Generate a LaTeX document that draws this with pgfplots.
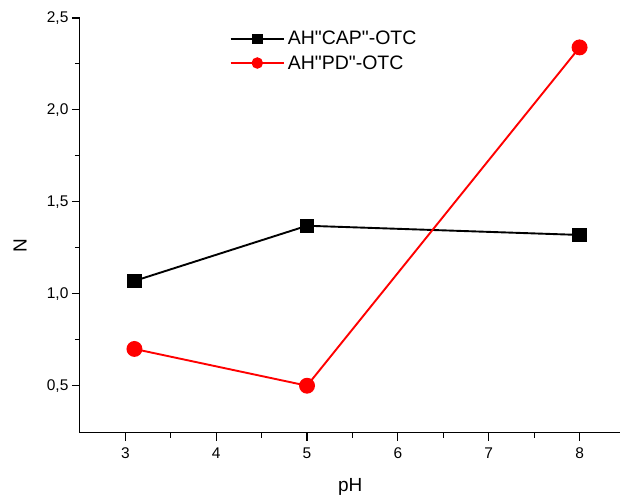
\documentclass[border=0pt]{standalone}
\usepackage{pgfplots}
\pgfplotsset{compat=1.18}
\usepackage{fontspec}
\setmainfont{Liberation Sans}
\begin{document}
\begin{tikzpicture}
\begin{axis}[
  scale only axis,
  width=541pt, height=415pt,
  xmin=2.5, xmax=8.45,
  ymin=0.245, ymax=2.5,
  axis x line*=bottom, axis y line*=left,
  axis line style={line width=1.1pt},
  tick style={line width=1.1pt, black},
  tick align=outside,
  major tick length=8pt, minor tick length=5pt,
  xtick={3,4,5,6,7,8}, ytick={0.5,1.0,1.5,2.0,2.5},
  minor x tick num=1, minor y tick num=1,
  /pgf/number format/assume math mode=true,
  yticklabel style={/pgf/number format/.cd, use comma, fixed, fixed zerofill, precision=1},
  ticklabel style={font=\fontsize{15.5}{17}\selectfont},
  xticklabel style={yshift=-4pt},
  xlabel={pH}, ylabel={N},
  label style={font=\fontsize{19}{21}\selectfont},
  xlabel style={at={(axis description cs:0.5,0)}, anchor=center, yshift=-54pt},
  ylabel style={at={(axis description cs:0,0.45)}, anchor=center, yshift=60pt},
  legend style={draw=none, fill=none, at={(rel axis cs:0.275,0.973)}, anchor=north west,
    font=\fontsize{19.5}{22}\selectfont, row sep=7pt, inner sep=1pt,
    nodes={inner xsep=3pt, inner ysep=1pt}},
  legend cell align=left,
  legend image code/.code={
    \draw[#1, mark=none] (0cm,0cm) -- (1.87cm,0cm);
    \draw[#1, only marks, mark options={scale=0.68}] plot coordinates {(0.935cm,0cm)};
  },
  clip=false,
]
\addplot[black, line width=1.9pt, mark=square*, mark size=6.3pt, mark options={solid}]
  coordinates {(3.1,1.07) (5,1.37) (8,1.32)};
\addlegendentry{AH\textquotedbl CAP\textquotedbl -OTC}
\addplot[red, line width=1.9pt, mark=*, mark size=7pt, mark options={solid, fill=red}]
  coordinates {(3.1,0.70) (5,0.50) (8,2.34)};
\addlegendentry{AH\textquotedbl PD\textquotedbl -OTC}
\end{axis}
\path (current axis.south west) ++(-80pt,-66pt) coordinate (bbA);
\path (current axis.north east) ++(0pt,18pt) coordinate (bbB);
\path (bbA) rectangle (bbB);
\end{tikzpicture}
\end{document}
